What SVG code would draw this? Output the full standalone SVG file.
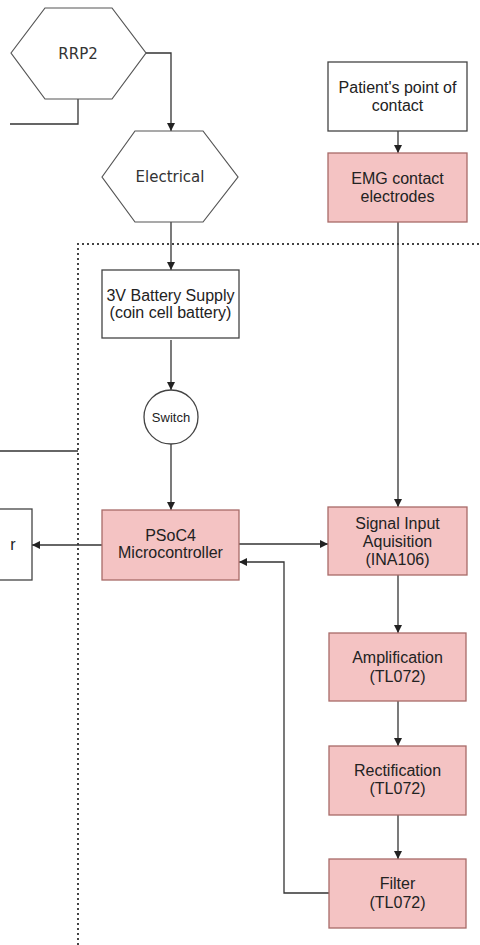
<svg xmlns="http://www.w3.org/2000/svg" width="480" height="945" viewBox="0 0 480 945">
  <defs>
    <marker id="arr" viewBox="0 0 10 10" refX="10" refY="5" markerWidth="8" markerHeight="8" markerUnits="userSpaceOnUse" orient="auto">
      <path d="M0,0 L10,5 L0,10 Z" fill="#222"/>
    </marker>
    <style>
      .box { fill: #ffffff; stroke: #444; stroke-width: 1.3; }
      .pink { fill: #f4c3c3; stroke: #a86a68; stroke-width: 1.3; }
      .hex { fill: #ffffff; stroke: #555; stroke-width: 1.2; }
      .t { font-family: "Liberation Sans", Arial, sans-serif; font-size: 16px; fill: #222; text-anchor: middle; }
      .th { font-family: "DejaVu Sans", Verdana, sans-serif; font-size: 15px; fill: #333; text-anchor: middle; }
      .edge { fill: none; stroke: #333; stroke-width: 1.3; }
      .arrow { marker-end: url(#arr); }
      .bound { fill: none; stroke: #444; stroke-width: 2; stroke-dasharray: 2 3; }
    </style>
  </defs>

  <!-- system boundary -->
  <path class="bound" d="M78,945 L78,244 L480,244"/>

  <!-- connectors -->
  <g id="connectors">
    <path class="edge arrow" d="M146,53 L171,53 L171,131"/>
    <path class="edge" d="M78,99 L78,124 L10,124"/>
    <path class="edge" d="M0,451 L78,451"/>
    <path class="edge arrow" d="M171,222 L171,270"/>
    <path class="edge arrow" d="M171,340 L171,390"/>
    <path class="edge arrow" d="M171,444 L171,510"/>
    <path class="edge arrow" d="M102,545 L32,545"/>
    <path class="edge arrow" d="M239,544 L328,544"/>
    <path class="edge arrow" d="M398,131 L398,153"/>
    <path class="edge arrow" d="M398,222 L398,507"/>
    <path class="edge arrow" d="M398,575 L398,633"/>
    <path class="edge arrow" d="M398,701 L398,746"/>
    <path class="edge arrow" d="M398,815 L398,859"/>
    <path class="edge arrow" d="M329,893 L284,893 L284,562 L239,562"/>
  </g>

  <g id="rrp2">
    <polygon class="hex" points="11,53 45,8 112,8 146,53 112,99 45,99"/>
    <text class="th" x="78" y="59">RRP2</text>
  </g>

  <g id="electrical">
    <polygon class="hex" points="102,177 135,131 203,131 238,177 203,222 135,222"/>
    <text class="th" x="170" y="182">Electrical</text>
  </g>

  <g id="battery">
    <rect class="box" x="102" y="270" width="137" height="68"/>
    <text class="t" x="170.5" y="301">3V Battery Supply</text>
    <text class="t" x="170.5" y="318">(coin cell battery)</text>
  </g>

  <g id="switch">
    <circle class="box" cx="171" cy="417" r="27"/>
    <text class="t" x="171" y="421.5" style="font-size:13px">Switch</text>
  </g>

  <g id="psoc4">
    <rect class="pink" x="102" y="510" width="137" height="70"/>
    <text class="t" x="170.5" y="541">PSoC4</text>
    <text class="t" x="170.5" y="558">Microcontroller</text>
  </g>

  <g id="output">
    <rect class="box" x="-20" y="509" width="52" height="71"/>
    <text class="t" x="13" y="550">r</text>
  </g>

  <g id="patient">
    <rect class="box" x="328" y="62" width="139" height="69"/>
    <text class="t" x="397.5" y="93">Patient's point of</text>
    <text class="t" x="397.5" y="111">contact</text>
  </g>

  <g id="emg">
    <rect class="pink" x="328" y="153" width="139" height="69"/>
    <text class="t" x="397.5" y="184">EMG contact</text>
    <text class="t" x="397.5" y="202">electrodes</text>
  </g>

  <g id="signal">
    <rect class="pink" x="328" y="507" width="139" height="68"/>
    <text class="t" x="397.5" y="529">Signal Input</text>
    <text class="t" x="397.5" y="547">Aquisition</text>
    <text class="t" x="397.5" y="565">(INA106)</text>
  </g>

  <g id="amplification">
    <rect class="pink" x="329" y="633" width="137" height="68"/>
    <text class="t" x="397.5" y="663">Amplification</text>
    <text class="t" x="397.5" y="682">(TL072)</text>
  </g>

  <g id="rectification">
    <rect class="pink" x="329" y="746" width="137" height="69"/>
    <text class="t" x="397.5" y="776">Rectification</text>
    <text class="t" x="397.5" y="794">(TL072)</text>
  </g>

  <g id="filter">
    <rect class="pink" x="329" y="859" width="137" height="69"/>
    <text class="t" x="397.5" y="889">Filter</text>
    <text class="t" x="397.5" y="908">(TL072)</text>
  </g>
</svg>
